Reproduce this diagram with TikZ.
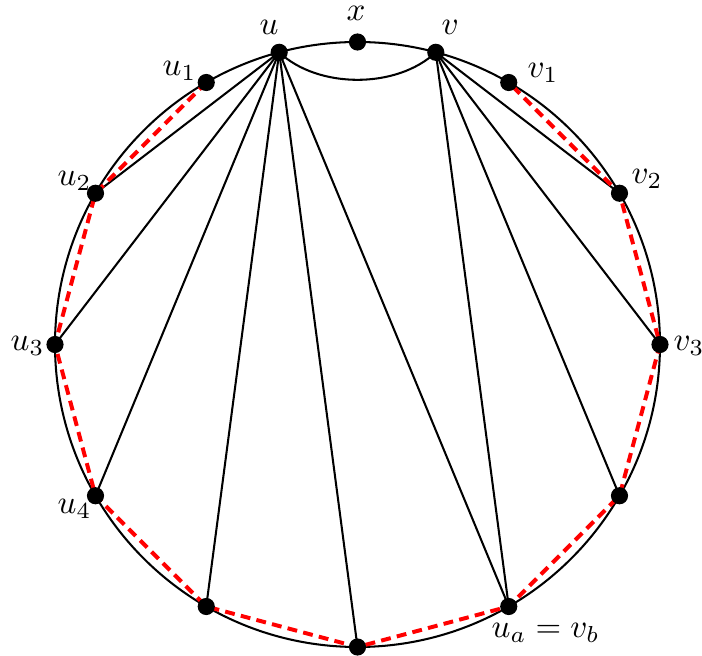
\documentclass[tikz,border=0pt]{standalone}
\pgfdeclarelayer{bg}
\pgfsetlayers{bg,main}
\begin{document}
\begin{tikzpicture}[x=0.3034pt,y=-0.3034pt,
  vtx/.style={circle,fill=black,inner sep=0pt,minimum size=5.2pt},
  edge/.style={line width=0.62pt,black},
  cyc/.style={red,line width=1.2pt,dash pattern=on 3pt off 1.9pt},
  lbl/.style={inner sep=0pt,anchor=base west}]
\path[use as bounding box] (0,0) rectangle (702,656);
% vertices
\node[vtx] (x)  at (357.5,42) {};
\node[vtx] (u)  at (279.2,52.3) {};
\node[vtx] (v)  at (435.8,52.3) {};
\node[vtx] (u1) at (206.25,82.5) {};
\node[vtx] (v1) at (508.75,82.5) {};
\node[vtx] (u2) at (95.5,193.25) {};
\node[vtx] (v2) at (619.5,193.25) {};
\node[vtx] (u3) at (55,344.5) {};
\node[vtx] (v3) at (660,344.5) {};
\node[vtx] (u4) at (95.5,495.75) {};
\node[vtx] (w1) at (619.5,495.75) {};
\node[vtx] (w2) at (206.25,606.5) {};
\node[vtx] (w3) at (508.75,606.5) {};
\node[vtx] (w4) at (357.5,647) {};
% labels
\node[lbl,anchor=base] (lx) at (356,21) {$x$};
\node[lbl] (lu)  at (259,35) {$u$};
\node[lbl] (lv)  at (441,35) {$v$};
\node[lbl] (lu1) at (162,76) {$u_1$};
\node[lbl] (lv1) at (527,78) {$v_1$};
\node[lbl] (lu2) at (57,186) {$u_2$};
\node[lbl] (lv2) at (631,184) {$v_2$};
\node[lbl] (lu3) at (10,351) {$u_3$};
\node[lbl] (lv3) at (673,351) {$v_3$};
\node[lbl] (lu4) at (57,514) {$u_4$};
\node[lbl] (lw3) at (491,638) {$u_a=v_b$};
\begin{pgfonlayer}{bg}
\draw[edge] (357.5,344.5) circle[radius=302.5];
\draw[edge] (u.center) .. controls (318,89) and (397,89) .. (v.center);
\foreach \t in {u2,u3,u4,w2,w4,w3}
  \draw[edge] (u.center) -- (\t.center);
\foreach \t in {v2,v3,w1,w3}
  \draw[edge] (v.center) -- (\t.center);
\draw[cyc] (u1.center) -- (u2.center) -- (u3.center) -- (u4.center) -- (w2.center)
  -- (w4.center) -- (w3.center) -- (w1.center) -- (v3.center) -- (v2.center) -- (v1.center);
\end{pgfonlayer}
\end{tikzpicture}
\end{document}
